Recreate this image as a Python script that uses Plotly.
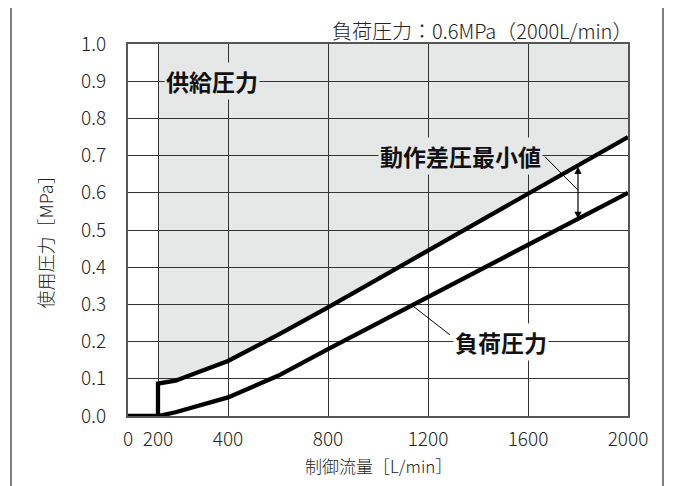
import numpy as np
import plotly.graph_objects as go

# ---- data ----
flow_supply = [0, 200, 200, 250, 400, 600, 800, 1200, 1600, 2000]
supply_pressure = [0, 0, 0.087, 0.095, 0.148, 0.218, 0.292, 0.445, 0.598, 0.75]
flow_load = [200, 250, 400, 600, 800, 1200, 1600, 2000]
load_pressure = [0, 0.01, 0.05, 0.108, 0.18, 0.32, 0.46, 0.6]
x_ticks = [0, 200, 400, 800, 1200, 1600, 2000]
y_ticks = [0.0, 0.1, 0.2, 0.3, 0.4, 0.5, 0.6, 0.7, 0.8, 0.9, 1.0]
arrow_flow = 1800

# piecewise-linear flow scale of the original chart
scale_in = [0, 200, 400, 2000]
scale_out = [0, 30, 100, 500]


def T(v):
    return np.interp(v, scale_in, scale_out)


FONT = "Noto Sans CJK JP"
GRAY = "#e6e7e7"

fig = go.Figure()

fig.add_trace(go.Scatter(x=T(flow_supply), y=supply_pressure, mode="lines",
                         line=dict(color="black", width=4.3), cliponaxis=False,
                         showlegend=False, hoverinfo="skip"))
fig.add_trace(go.Scatter(x=T(flow_load), y=load_pressure, mode="lines",
                         line=dict(color="black", width=4.3), cliponaxis=False,
                         showlegend=False, hoverinfo="skip"))

# gray supply region (above supply curve, from 200 L/min)
sx = flow_supply[2:]
sy = supply_pressure[2:]
path = f"M {T(200)},1 " + " ".join(f"L {T(a)},{b}" for a, b in zip(sx, sy)) + f" L {T(2000)},1 Z"

shapes = [
    dict(type="path", path=path, xref="x", yref="y", fillcolor=GRAY,
         line=dict(width=0), layer="below"),
    # outer frame
    dict(type="rect", xref="paper", yref="paper", x0=-0.234, x1=1.07, y0=-0.25, y1=1.0995,
         line=dict(color="#555", width=1.5)),
]

up_a = float(np.interp(arrow_flow, flow_supply[2:], supply_pressure[2:]))
lo_a = float(np.interp(arrow_flow, flow_load, load_pressure))

# leader lines
shapes.append(dict(type="line", xref="x", yref="y", x0=T(1668), y0=0.697,
                   x1=T(arrow_flow), y1=0.607, line=dict(color="black", width=1)))
lo_pt = float(np.interp(1136, flow_load, load_pressure))
shapes.append(dict(type="line", xref="x", yref="y", x0=T(1136), y0=lo_pt,
                   x1=T(1288), y1=0.218, line=dict(color="black", width=1)))

LBL = dict(family=FONT, size=23, color="#111")
annotations = [
    dict(x=T(354), y=0.9, xref="x", yref="y", text="<b>供給圧力</b>", showarrow=False,
         font=LBL, bgcolor=GRAY, borderpad=1),
    dict(x=T(1328), y=0.7, xref="x", yref="y", text="<b>動作差圧最小値</b>", showarrow=False,
         font=LBL, bgcolor=GRAY, borderpad=1),
    dict(x=T(1492), y=0.2, xref="x", yref="y", text="<b>負荷圧力</b>", showarrow=False,
         font=LBL, bgcolor="white", borderpad=1),
    dict(x=1.0, y=1.035, xref="paper", yref="paper", xanchor="right", yanchor="middle",
         xshift=6, text="負荷圧力：0.6MPa（2000L/min）", showarrow=False,
         font=dict(family=FONT, size=20, color="#222", weight=300)),
    # axis titles
    dict(x=0.5, y=-0.134, xref="paper", yref="paper", xanchor="center", yanchor="middle",
         text="制御流量［L/min］", showarrow=False,
         font=dict(family=FONT, size=17, color="#222", weight=300)),
    dict(x=-0.166, y=0.48, xref="paper", yref="paper", xanchor="center", yanchor="middle",
         text="使用圧力［MPa］", showarrow=False, textangle=-90,
         font=dict(family=FONT, size=18, color="#222", weight=300)),
    # double arrow
    dict(x=T(arrow_flow), y=lo_a, ax=T(arrow_flow), ay=up_a, xref="x", yref="y",
         axref="x", ayref="y", text="", showarrow=True, arrowhead=2, startarrowhead=2,
         arrowside="end+start", arrowsize=1.2, startarrowsize=1.2, arrowwidth=1.2,
         arrowcolor="black"),
]

TICKFONT = dict(family=FONT, size=19, color="#222", weight=300)

fig.update_layout(
    width=675, height=486,
    margin=dict(l=120, r=55, t=36, b=78),
    paper_bgcolor="white", plot_bgcolor="white",
    font=dict(family=FONT, color="#222"),
    shapes=shapes, annotations=annotations,
    xaxis=dict(range=[0, 500], tickvals=T(x_ticks), ticktext=[str(v) for v in x_ticks],
               showgrid=True, gridcolor="#333", gridwidth=1.2, zeroline=False,
               showline=True, linecolor="#555", linewidth=2, mirror=True,
               ticks="", ticklabelstandoff=5, tickfont=TICKFONT, automargin=False),
    yaxis=dict(range=[0, 1], tickvals=y_ticks, ticktext=[f"{v:.1f}" for v in y_ticks],
               showgrid=True, gridcolor="#333", gridwidth=1.2, zeroline=False,
               showline=True, linecolor="#555", linewidth=2, mirror=True,
               ticks="", ticklabelstandoff=16, tickfont=TICKFONT, automargin=False),
)

fig.write_html("out.html")
